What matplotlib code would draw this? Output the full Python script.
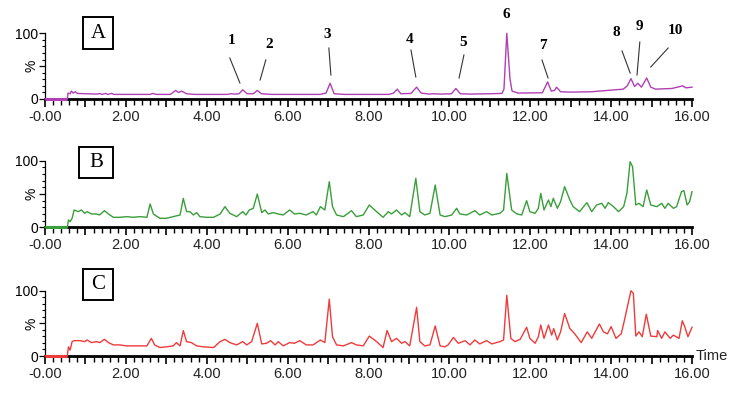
import matplotlib
matplotlib.use("Agg")
import matplotlib.pyplot as plt
from matplotlib.ticker import MultipleLocator, FixedLocator, FixedFormatter
from matplotlib.patches import Rectangle

# retention time (min) / relative intensity (%) vertices
a_time = [0, 0.55, 0.57, 0.62, 0.65, 0.7, 0.75, 0.8, 1.0, 1.3, 1.35, 1.4, 1.5, 1.55, 1.65, 1.7,
          2.0, 2.6, 2.67, 2.75, 3.1, 3.23, 3.3, 3.38, 3.5, 3.7, 4.5, 4.6, 4.7, 4.8, 4.89, 5.0,
          5.15, 5.25, 5.35, 5.6, 6.8, 6.95, 7.05, 7.15, 7.4, 8.5, 8.62, 8.71, 8.8, 9.05, 9.19,
          9.3, 9.5, 9.6, 9.8, 10.05, 10.16, 10.27, 10.5, 11.0, 11.3, 11.35, 11.42, 11.5, 11.55,
          11.7, 12.3, 12.43, 12.52, 12.6, 12.65, 12.75, 13.0, 13.5, 13.9, 14.1, 14.3, 14.4,
          14.49, 14.58, 14.66, 14.75, 14.88, 14.98, 15.1, 15.5, 15.77, 15.85, 16.0]
a_int = [0, 0, 9, 8, 12, 9, 11, 8.5, 8, 7.5, 8.5, 7, 8.5, 7, 8.5, 7,
         7, 7, 8.5, 7, 7, 13, 10, 12, 8, 7, 7, 8, 7.5, 8, 14, 8,
         8, 13, 8, 7, 7, 9, 24, 8, 7, 7, 9, 15, 8, 8.5, 18,
         9, 7.5, 8, 7.5, 8, 16, 8, 7.5, 8, 8.5, 15, 100, 30, 12,
         9, 9.5, 26, 12, 13, 18, 11, 10.5, 11, 13, 14, 15, 20,
         31, 19, 24, 18, 32, 18, 15, 16, 20, 17, 18]

b_time = [0, 0.55, 0.58, 0.62, 0.67, 0.72, 0.82, 0.9, 0.98, 1.04, 1.15, 1.27, 1.35, 1.47, 1.57,
          1.69, 1.85, 2.02, 2.18, 2.35, 2.52, 2.6, 2.68, 2.84, 3.0, 3.17, 3.34, 3.42, 3.5, 3.58,
          3.67, 3.75, 3.83, 4.0, 4.17, 4.33, 4.45, 4.57, 4.74, 4.89, 4.97, 5.05, 5.15, 5.25, 5.36,
          5.44, 5.52, 5.64, 5.77, 5.89, 6.05, 6.17, 6.3, 6.46, 6.63, 6.71, 6.81, 6.92, 7.03, 7.11,
          7.21, 7.38, 7.58, 7.7, 7.87, 8.02, 8.2, 8.36, 8.49, 8.57, 8.69, 8.82, 8.9, 9.02, 9.17,
          9.27, 9.39, 9.52, 9.65, 9.77, 9.89, 10.06, 10.18, 10.26, 10.43, 10.63, 10.75, 10.92,
          11.05, 11.25, 11.34, 11.42, 11.54, 11.67, 11.79, 11.91, 11.99, 12.12, 12.2, 12.26,
          12.34, 12.45, 12.51, 12.57, 12.67, 12.75, 12.85, 12.98, 13.06, 13.22, 13.4, 13.52,
          13.64, 13.77, 13.85, 13.93, 14.06, 14.18, 14.31, 14.39, 14.47, 14.53, 14.61, 14.69,
          14.79, 14.88, 14.98, 15.13, 15.25, 15.33, 15.41, 15.54, 15.62, 15.74, 15.8, 15.88,
          15.94, 16.0]
b_int = [0, 0, 11, 8.5, 13.5, 26, 23.5, 26, 21, 23.5, 20, 20, 18.5, 25, 20,
         15, 15, 16, 15, 16, 15, 35, 20, 13.5, 13.5, 16, 18.5, 43.5, 23.5, 23.5,
         18.5, 22, 16, 15, 15, 20, 31, 21, 16, 23.5, 18.5, 26, 28.5, 50, 22,
         26, 20, 22, 20, 18.5, 26, 20, 21, 18.5, 23.5, 18.5, 31, 26, 68.5, 31,
         18.5, 16, 25, 16, 18.5, 33.5, 23.5, 15, 23.5, 20, 26, 18.5, 22, 16, 73.5,
         23.5, 18.5, 21, 63.5, 18.5, 16, 18.5, 28.5, 20, 18.5, 25, 18.5, 23.5,
         18.5, 21, 26, 81, 26, 20, 18.5, 40, 23.5, 21, 28.5, 51,
         26, 41, 31, 43.5, 28.5, 38.5, 61, 41, 31, 23.5, 37, 23.5,
         33.5, 36, 28.5, 37, 31, 23.5, 31, 51, 98.5, 91, 33.5, 36,
         31, 56, 33.5, 31, 36, 28.5, 36, 28.5, 31, 53.5, 55, 33.5,
         38.5, 53.5]

c_time = [0, 0.55, 0.58, 0.62, 0.67, 0.72, 0.87, 0.98, 1.04, 1.15, 1.27, 1.35, 1.47, 1.57,
          1.69, 1.85, 2.02, 2.27, 2.52, 2.63, 2.71, 2.84, 3.0, 3.17, 3.25, 3.34, 3.42, 3.5, 3.62,
          3.75, 3.92, 4.17, 4.33, 4.45, 4.57, 4.74, 4.89, 4.99, 5.11, 5.25, 5.36, 5.48, 5.58,
          5.69, 5.77, 5.89, 6.05, 6.17, 6.3, 6.46, 6.63, 6.81, 6.92, 7.03, 7.11, 7.21, 7.38,
          7.58, 7.7, 7.87, 8.02, 8.2, 8.36, 8.46, 8.57, 8.69, 8.82, 8.9, 9.02, 9.19, 9.27, 9.39,
          9.52, 9.65, 9.77, 9.89, 9.97, 10.1, 10.22, 10.39, 10.51, 10.63, 10.75, 10.92, 11.05,
          11.25, 11.34, 11.42, 11.52, 11.62, 11.75, 11.91, 11.99, 12.12, 12.2, 12.26, 12.34,
          12.45, 12.53, 12.58, 12.67, 12.75, 12.85, 12.98, 13.1, 13.26, 13.41, 13.52, 13.71,
          13.81, 13.91, 14.0, 14.12, 14.25, 14.33, 14.49, 14.55, 14.61, 14.69, 14.77, 14.87,
          14.98, 15.13, 15.15, 15.25, 15.33, 15.46, 15.54, 15.68, 15.76, 15.82, 15.9, 16.0]
c_int = [0, 0, 14, 9, 22, 23.5, 23.5, 22, 24.5, 20.5, 22, 20.5, 25.5, 20.5,
         17, 17, 15.5, 15.5, 15.5, 27, 17, 13, 14, 15.5, 20.5, 15.5, 39, 22, 20.5,
         15.5, 14, 13, 22, 25.5, 20.5, 17, 22, 17, 22, 50, 18.5, 19.5, 23.5,
         17, 22, 15.5, 20.5, 19.5, 23.5, 17, 17, 24.5, 20.5, 87, 29.5, 17, 15.5,
         20.5, 17, 15.5, 30.5, 22, 13, 39, 22, 27, 19.5, 22, 15.5, 74.5, 22, 15.5,
         17, 46, 15.5, 14, 17, 28.5, 19.5, 23.5, 17, 24.5, 18.5, 23.5, 18.5,
         22, 24.5, 93, 27, 22, 25.5, 44, 27, 19.5, 29.5, 47.5, 27,
         47.5, 32, 42, 24.5, 37, 65, 42, 34, 20.5, 37, 27, 49,
         37, 34, 45, 27, 34, 55, 100, 96, 30.5, 37, 29.5, 64,
         30.5, 29.5, 39, 27, 37, 27, 32, 27, 54, 45, 29.5, 44]

panel_names = ["A", "B", "C"]
panel_colors = ["#b040b4", "#3a9e3a", "#ee3b3b"]
x_ticks = list(range(17))
x_labels = ["-0.00" if k == 0 else (f"{k}.00" if k % 2 == 0 else "") for k in x_ticks]

# peak numbers in panel A: label, text position, leader line from / to
peak_notes = [
    ("1", 4.62, 89.8, (4.57, 62.4), (4.82, 24.4)),
    ("2", 5.54, 82.2, (5.46, 59.4), (5.32, 28.9)),
    ("3", 6.97, 98.9, (7.02, 77.6), (7.07, 36.5)),
    ("4", 9.01, 90.9, (9.05, 74.6), (9.17, 33.5)),
    ("5", 10.33, 85.7, (10.36, 67.0), (10.24, 32.0)),
    ("6", 11.42, 127.9, None, None),
    ("7", 12.32, 80.7, (12.29, 59.4), (12.44, 32.0)),
    ("8", 14.14, 100.9, (14.27, 73.1), (14.47, 39.6)),
    ("9", 14.71, 110.0, (14.71, 86.8), (14.64, 36.5)),
    ("10", 15.60, 104.0, (15.41, 77.6), (14.98, 48.7)),
]

plt.rcParams['font.family'] = ['Liberation Sans', 'DejaVu Sans']

W, H = 747, 404
fig = plt.figure(figsize=(W / 100, H / 100), dpi=100)

# axes boxes in pixels: (y of 0 %, y of 100 %)
panel_px = [(99, 33.3), (227.3, 160.7), (356, 290.7)]
box_px = [(82.7, 17.3, 113.3, 49), (79, 147, 112.7, 178), (82.7, 269, 113.3, 300)]
traces = [(a_time, a_int), (b_time, b_int), (c_time, c_int)]

for i, (y0, y100) in enumerate(panel_px):
    ax = fig.add_axes([45 / W, 1 - y0 / H, (692 - 45) / W, (y0 - y100) / H])
    t, v = traces[i]
    ax.plot(t, v, color=panel_colors[i], lw=1.0, clip_on=False, zorder=3)
    ax.plot(t[:2], v[:2], color=panel_colors[i], lw=2.2, clip_on=False, zorder=4,
            solid_capstyle='butt')
    ax.set_xlim(0, 16)
    ax.set_ylim(0, 100)
    ax.patch.set_visible(False)
    for s in ['top', 'right']:
        ax.spines[s].set_visible(False)
    ax.spines['bottom'].set_linewidth(2.0)
    ax.spines['left'].set_linewidth(0.9)

    ax.xaxis.set_major_locator(FixedLocator(x_ticks))
    ax.xaxis.set_major_formatter(FixedFormatter(x_labels))
    ax.xaxis.set_minor_locator(FixedLocator([k * 0.2 for k in range(81) if k % 5]))
    ax.tick_params(axis='x', which='major', length=6, width=1.2, labelsize=10.5, pad=2,
                   labelcolor='#222222')
    ax.tick_params(axis='x', which='minor', length=4, width=1.0)
    ax.yaxis.set_major_locator(FixedLocator([0, 50, 100]))
    ax.yaxis.set_major_formatter(FixedFormatter(["0", "%", "100"]))
    ax.yaxis.set_minor_locator(MultipleLocator(10))
    ax.tick_params(axis='y', which='major', length=4, width=0.9, labelsize=10, pad=1)
    ax.tick_params(axis='y', which='minor', length=2.5, width=0.8)
    for lab in ax.get_yticklabels():
        if lab.get_text() == "%":
            lab.set_rotation(90)
            lab.set_va('center')

    x0, ty, x1, by = box_px[i]
    fig.add_artist(Rectangle((x0 / W, 1 - by / H), (x1 - x0) / W, (by - ty) / H,
                             transform=fig.transFigure, fill=False, ec='black', lw=1.4))
    fig.text((x0 + x1) / 2 / W, 1 - (ty + by) / 2 / H, panel_names[i],
             ha='center', va='center', fontsize=15, family='Liberation Serif')

    if i == 0:
        for lab, lx, ly, p0, p1 in peak_notes:
            ax.text(lx, ly, lab, ha='center', va='center', fontsize=11,
                    family='Liberation Serif', fontweight='bold', clip_on=False)
            if p0 is not None:
                ax.plot([p0[0], p1[0]], [p0[1], p1[1]], color='#333333', lw=0.8,
                        clip_on=False)
    if i == 2:
        ax.text(16.1, 0, "Time", ha='left', va='center', fontsize=10.5, color='#222222')

fig.savefig("out.png", dpi=100)
